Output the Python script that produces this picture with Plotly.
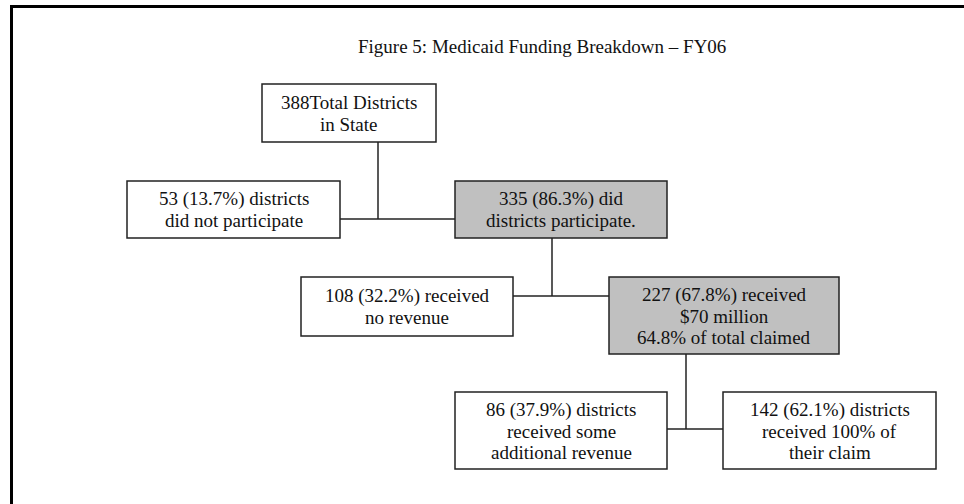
import plotly.graph_objects as go

# chart content
title_text = "Figure 5: Medicaid Funding Breakdown \u2013 FY06"
node_labels = [
    ["388Total Districts", "in State"],
    ["53 (13.7%) districts", "did not participate"],
    ["335 (86.3%) did", "districts participate."],
    ["108 (32.2%) received", "no revenue"],
    ["227 (67.8%) received", "$70 million", "64.8% of total claimed"],
    ["86 (37.9%) districts", "received some", "additional revenue"],
    ["142 (62.1%) districts", "received 100% of", "their claim"],
]
node_shaded = [False, False, True, False, True, False, False]
# parent -> (left child, right child)
splits = [(0, 1, 2), (2, 3, 4), (4, 5, 6)]

# layout of the boxes, in page pixels: x0, x1, y0, y1
node_boxes = [
    (262, 436, 84, 142),
    (127, 340, 181, 238),
    (455, 667, 181, 238),
    (301, 513, 277, 336),
    (609, 839, 277, 354),
    (455, 667, 392, 469),
    (723, 936, 392, 469),
]
split_x = [378, 552, 686]
split_y = [219, 296, 429]

W, H = 964, 504
FONT = "Liberation Serif"
LINE_H = 21.5
TEXT_SIZE = 19

fig = go.Figure()
shapes = []
annotations = []

# outer frame (top and left edges only)
shapes.append(dict(type="line", x0=10, x1=W, y0=6.5, y1=6.5, line=dict(color="black", width=3)))
shapes.append(dict(type="line", x0=11.5, x1=11.5, y0=5, y1=H, line=dict(color="black", width=3)))

for (parent, left, right), px, hy in zip(splits, split_x, split_y):
    lb, rb = node_boxes[left], node_boxes[right]
    # vertical drop from the parent box
    shapes.append(dict(type="line", x0=px, x1=px, y0=node_boxes[parent][3], y1=hy,
                       line=dict(color="#222", width=1.5)))
    # horizontal link between the children
    shapes.append(dict(type="line", x0=lb[1], x1=rb[0], y0=hy, y1=hy,
                       line=dict(color="#222", width=1.5)))

for box, lines, shaded in zip(node_boxes, node_labels, node_shaded):
    x0, x1, y0, y1 = box
    shapes.append(dict(type="rect", x0=x0, x1=x1, y0=y0, y1=y1,
                       fillcolor="#c0c0c0" if shaded else "white",
                       line=dict(color="#222", width=1.5), layer="above"))
    cy = (y0 + y1) / 2 + 0.5
    n = len(lines)
    for i, t in enumerate(lines):
        annotations.append(dict(x=(x0 + x1) / 2, y=cy + (i - (n - 1) / 2) * LINE_H,
                                text=t, showarrow=False, xanchor="center", yanchor="middle",
                                font=dict(family=FONT, size=TEXT_SIZE, color="#111")))

annotations.append(dict(x=542, y=46, text=title_text, showarrow=False,
                        xanchor="center", yanchor="middle",
                        font=dict(family=FONT, size=19, color="#111")))

fig.update_layout(
    width=W, height=H,
    margin=dict(l=0, r=0, t=0, b=0),
    paper_bgcolor="white", plot_bgcolor="white",
    xaxis=dict(range=[0, W], visible=False, fixedrange=True),
    yaxis=dict(range=[H, 0], visible=False, fixedrange=True),
    shapes=shapes,
    annotations=annotations,
    showlegend=False,
)

fig.write_html(
    "out.html",
    config={"displayModeBar": False},
    post_script="document.body.style.margin='0';document.body.style.overflow='hidden';",
)
